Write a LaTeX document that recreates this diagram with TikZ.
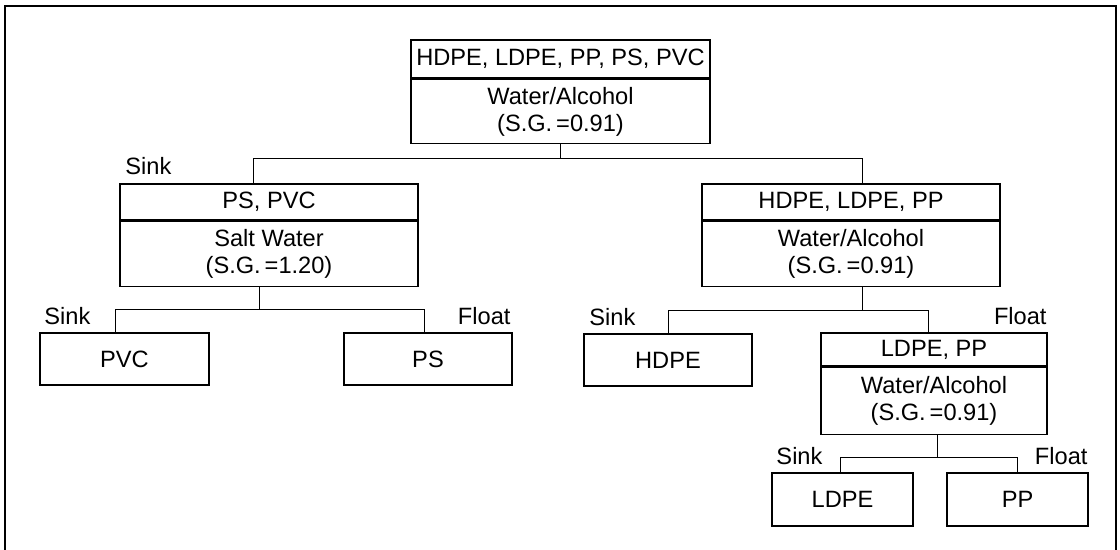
\documentclass[tikz,border=0pt]{standalone}
\usepackage{fontspec}
\setmainfont{Liberation Sans}
\usetikzlibrary{positioning,calc}

\begin{document}
\begin{tikzpicture}[
    x=0.025cm, y=-0.025cm,
    every node/.style={font=\fontsize{16.8}{19.4}\selectfont},
    head/.style={
      rectangle, draw=black, line width=1.1pt,
      minimum width=#1, minimum height=0.9cm,
      inner sep=0pt, align=center
    },
    body/.style={
      rectangle, draw=black, line width=1.1pt,
      minimum width=#1, minimum height=1.625cm,
      inner sep=0pt, align=center
    },
    leaf/.style={
      rectangle, draw=black, line width=1.1pt,
      minimum width=#1, minimum height=1.3cm,
      inner sep=0pt
    },
    link/.style={draw=black, line width=0.7pt},
    sinktag/.style={inner sep=0pt, anchor=base west},
    floattag/.style={inner sep=0pt, anchor=base east},
    frame/.style={draw=black, line width=1.2pt},
  ]
  \useasboundingbox (0,0) rectangle (1120,550);

  % Frame
  \draw[frame] (5,550) -- (5,6) -- (1116,6) -- (1116,550);

  % Nodes
  \node[head=7.475cm, minimum height=0.95cm] (tophead) at (560.5,59) {HDPE, LDPE, PP, PS, PVC};
  \node[body=7.475cm, minimum height=1.6cm, below=0pt of tophead] (topbody)
    {Water/Alcohol\\(S.G.\,=0.91)};

  \node[head=7.45cm] (pshead) at (269,202) {PS, PVC};
  \node[body=7.45cm, below=0pt of pshead] (psbody) {Salt Water\\(S.G.\,=1.20)};

  \node[head=7.45cm] (pehead) at (851,202) {HDPE, LDPE, PP};
  \node[body=7.45cm, below=0pt of pehead] (pebody) {Water/Alcohol\\(S.G.\,=0.91)};

  \node[leaf=4.225cm] (pvc) at (124.5,359) {PVC};
  \node[leaf=4.2cm] (ps) at (428,359) {PS};
  \node[leaf=4.2cm] (hdpe) at (668,360) {HDPE};

  \node[head=5.65cm, minimum height=0.825cm] (lphead) at (934,349.5) {LDPE, PP};
  \node[body=5.65cm, minimum height=1.675cm, below=0pt of lphead] (lpbody)
    {Water/Alcohol\\(S.G.\,=0.91)};

  \node[leaf=3.525cm, minimum height=1.325cm] (ldpe) at (842.5,499.5) {LDPE};
  \node[leaf=3.525cm, minimum height=1.325cm] (pp) at (1017.5,499.5) {PP};

  % Connectors
  \draw[link] (topbody.south) -- ++(0,14) coordinate (j1);
  \draw[link] (j1) -| ($(pshead.north)+(-16,0)$);
  \draw[link] (j1) -| ($(pehead.north)+(11,0)$);

  \draw[link] ($(psbody.south)+(-10,0)$) -- ++(0,22) coordinate (j2);
  \draw[link] (j2) -| ($(pvc.north)+(-9,0)$);
  \draw[link] (j2) -| ($(ps.north)+(-4,0)$);

  \draw[link] ($(pebody.south)+(11,0)$) -- ++(0,23) coordinate (j3);
  \draw[link] (j3) -| (hdpe.north);
  \draw[link] (j3) -| ($(lphead.north)+(-6,0)$);

  \draw[link] ($(lpbody.south)+(3,0)$) -- ++(0,22) coordinate (j4);
  \draw[link] (j4) -| ($(ldpe.north)+(-2,0)$);
  \draw[link] (j4) -| (pp.north);

  % Sink / Float labels
  \node[sinktag]  (s1) at ($(pshead.north west)+(6,-9)$) {Sink};
  \node[sinktag]  (s2) at ($(pvc.north west)+(5,-8)$) {Sink};
  \node[floattag] (f2) at ($(ps.north east)+(-2,-8)$) {Float};
  \node[sinktag]  (s3) at ($(hdpe.north west)+(6,-8)$) {Sink};
  \node[floattag] (f3) at ($(lphead.north east)+(-1,-8)$) {Float};
  \node[sinktag]  (s4) at ($(ldpe.north west)+(5,-8)$) {Sink};
  \node[floattag] (f4) at ($(pp.north east)+(-1,-8)$) {Float};

\end{tikzpicture}
\end{document}
